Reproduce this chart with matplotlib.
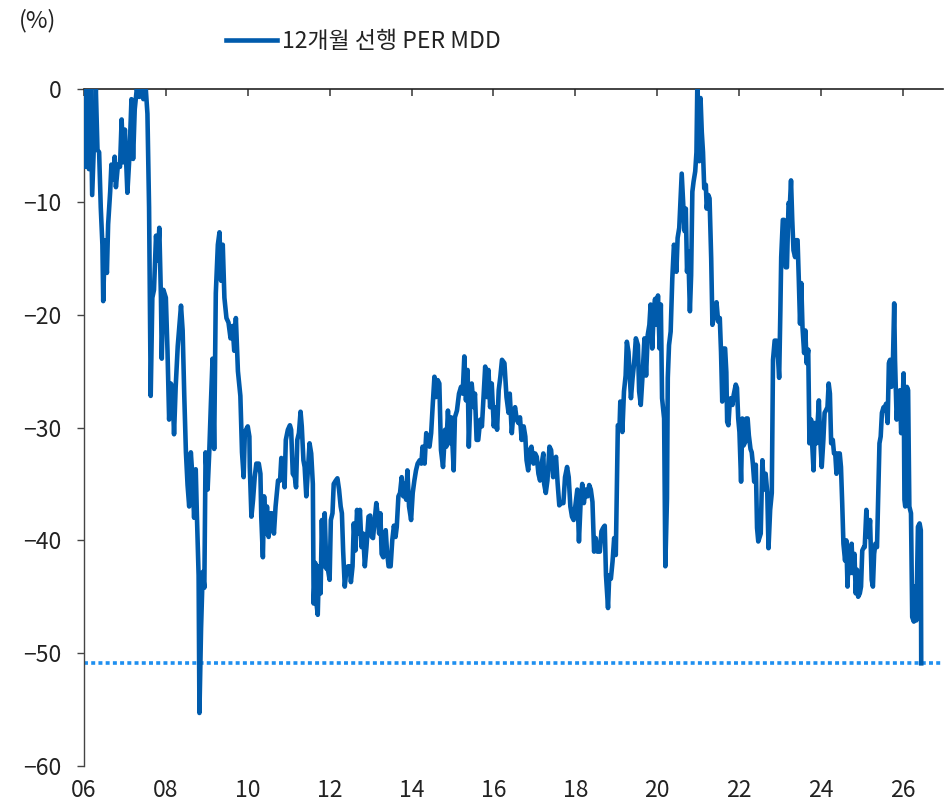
import matplotlib
matplotlib.use("Agg")
import matplotlib.pyplot as plt

plt.rcParams['font.family'] = ['Noto Sans CJK KR', 'DejaVu Sans']

# 12m forward PER drawdown (%), decimal year on x
years = [
    2006.02, 2006.03, 2006.08, 2006.12, 2006.16, 2006.20, 2006.24, 2006.29, 2006.33, 2006.37,
    2006.41, 2006.45, 2006.47, 2006.51, 2006.56, 2006.59, 2006.64, 2006.67, 2006.72, 2006.75,
    2006.78, 2006.83, 2006.88, 2006.92, 2006.96, 2007.00, 2007.06, 2007.11, 2007.16, 2007.20,
    2007.24, 2007.29, 2007.35, 2007.39, 2007.45, 2007.51, 2007.55, 2007.59, 2007.63, 2007.67,
    2007.71, 2007.76, 2007.80, 2007.84, 2007.88, 2007.90, 2007.94, 2008.00, 2008.04, 2008.08,
    2008.12, 2008.16, 2008.20, 2008.24, 2008.29, 2008.33, 2008.37, 2008.41, 2008.45, 2008.49,
    2008.53, 2008.57, 2008.61, 2008.65, 2008.69, 2008.73, 2008.76, 2008.80, 2008.82, 2008.86,
    2008.90, 2008.94, 2008.97, 2009.02, 2009.06, 2009.10, 2009.14, 2009.18, 2009.22, 2009.27,
    2009.31, 2009.35, 2009.39, 2009.43, 2009.48, 2009.53, 2009.58, 2009.63, 2009.67, 2009.71,
    2009.76, 2009.82, 2009.86, 2009.90, 2009.93, 2010.00, 2010.04,
    2010.05, 2010.09, 2010.13, 2010.17, 2010.21, 2010.27, 2010.31, 2010.33, 2010.37, 2010.40,
    2010.44, 2010.47, 2010.51, 2010.55, 2010.59, 2010.64, 2010.68, 2010.74, 2010.79, 2010.82,
    2010.86, 2010.90, 2010.93, 2010.98, 2011.03, 2011.06, 2011.10, 2011.15, 2011.18, 2011.21,
    2011.25, 2011.29, 2011.32, 2011.36, 2011.39, 2011.43, 2011.47, 2011.51, 2011.55, 2011.59,
    2011.61, 2011.65, 2011.67, 2011.71, 2011.74, 2011.78, 2011.81, 2011.84, 2011.88, 2011.92,
    2011.96, 2012.00, 2012.03, 2012.07, 2012.10, 2012.15, 2012.19, 2012.23, 2012.27, 2012.30,
    2012.33, 2012.37, 2012.41, 2012.45, 2012.49, 2012.52, 2012.56, 2012.59, 2012.63, 2012.67,
    2012.71, 2012.74, 2012.78, 2012.82, 2012.86, 2012.90, 2012.95, 2012.99, 2013.03, 2013.06,
    2013.10, 2013.14, 2013.18, 2013.21, 2013.24, 2013.27, 2013.31, 2013.34, 2013.37, 2013.40,
    2013.44, 2013.49, 2013.53, 2013.57, 2013.61, 2013.64, 2013.68, 2013.72, 2013.76, 2013.80,
    2013.83, 2013.87, 2013.90, 2013.94, 2013.99, 2014.03, 2014.07, 2014.11, 2014.15,
    2014.20, 2014.24, 2014.27, 2014.32, 2014.36, 2014.40, 2014.44, 2014.48, 2014.52, 2014.56,
    2014.60, 2014.64, 2014.68, 2014.72, 2014.77, 2014.82, 2014.85, 2014.89, 2014.93, 2014.97,
    2015.03, 2015.06, 2015.11, 2015.16, 2015.21, 2015.25, 2015.29, 2015.33, 2015.37, 2015.40,
    2015.44, 2015.47, 2015.52, 2015.55, 2015.59, 2015.63, 2015.68, 2015.72, 2015.76, 2015.80,
    2015.84, 2015.88, 2015.92, 2015.96, 2016.01, 2016.05, 2016.09, 2016.13, 2016.17, 2016.21,
    2016.27, 2016.32, 2016.37, 2016.40, 2016.45, 2016.49, 2016.53, 2016.57, 2016.61, 2016.65,
    2016.69, 2016.74, 2016.78, 2016.81, 2016.85, 2016.89, 2016.93, 2016.98, 2017.02, 2017.06,
    2017.10, 2017.14, 2017.18, 2017.22, 2017.24, 2017.28, 2017.32, 2017.37, 2017.41, 2017.46,
    2017.49, 2017.53, 2017.57, 2017.61, 2017.65, 2017.71, 2017.75, 2017.80, 2017.84, 2017.88,
    2017.92, 2017.96, 2018.01, 2018.05, 2018.09, 2018.13, 2018.17, 2018.21, 2018.25, 2018.30,
    2018.34, 2018.38, 2018.42, 2018.46, 2018.50, 2018.54, 2018.60, 2018.64, 2018.68, 2018.72,
    2018.75, 2018.80, 2018.83, 2018.87, 2018.91, 2018.95, 2018.99, 2019.04, 2019.08, 2019.10,
    2019.15, 2019.19, 2019.23, 2019.26, 2019.30, 2019.36, 2019.40, 2019.44, 2019.48, 2019.53,
    2019.56, 2019.60, 2019.64, 2019.69, 2019.73, 2019.77, 2019.81, 2019.84, 2019.88, 2019.92,
    2019.95, 2019.99, 2020.02, 2020.06, 2020.09, 2020.12, 2020.17, 2020.20, 2020.24, 2020.26,
    2020.29, 2020.33, 2020.37, 2020.41, 2020.44, 2020.47, 2020.50, 2020.54, 2020.57, 2020.60,
    2020.63, 2020.67, 2020.70, 2020.73, 2020.76, 2020.80, 2020.83, 2020.86, 2020.89, 2020.93,
    2020.96, 2020.98, 2021.01, 2021.03, 2021.06, 2021.09, 2021.12, 2021.15, 2021.19, 2021.21,
    2021.25, 2021.28, 2021.32, 2021.35, 2021.38, 2021.41, 2021.45, 2021.49, 2021.53, 2021.56,
    2021.59, 2021.63, 2021.66, 2021.69, 2021.71, 2021.74, 2021.77, 2021.80, 2021.84, 2021.87,
    2021.92, 2021.95, 2021.98, 2022.01, 2022.05, 2022.08, 2022.11, 2022.15, 2022.18, 2022.21,
    2022.24, 2022.28, 2022.31, 2022.34, 2022.37, 2022.41, 2022.44, 2022.47,
    2022.53, 2022.57, 2022.61, 2022.65, 2022.69, 2022.72, 2022.76, 2022.80, 2022.83, 2022.87,
    2022.91, 2022.95, 2022.98, 2023.01, 2023.03, 2023.07, 2023.10, 2023.14, 2023.17, 2023.21,
    2023.24, 2023.27, 2023.30, 2023.33, 2023.37, 2023.40, 2023.43, 2023.46, 2023.49, 2023.52,
    2023.55, 2023.59, 2023.62, 2023.65, 2023.69, 2023.72, 2023.76, 2023.79, 2023.82, 2023.85,
    2023.89, 2023.92, 2023.95, 2023.98, 2024.02, 2024.06, 2024.09, 2024.12, 2024.16, 2024.19,
    2024.22, 2024.25, 2024.29, 2024.32, 2024.35, 2024.38, 2024.41, 2024.46, 2024.49, 2024.52,
    2024.55, 2024.59, 2024.62, 2024.65, 2024.68, 2024.72, 2024.75, 2024.78, 2024.82, 2024.85,
    2024.88, 2024.91, 2024.95, 2024.98, 2025.01, 2025.05, 2025.07, 2025.11, 2025.14, 2025.17,
    2025.20, 2025.24, 2025.27, 2025.30, 2025.33, 2025.37, 2025.40, 2025.43, 2025.46, 2025.49,
    2025.53, 2025.56, 2025.59, 2025.63, 2025.66, 2025.69, 2025.72, 2025.76, 2025.79, 2025.81,
    2025.85, 2025.89, 2025.93, 2025.96, 2025.99, 2026.02, 2026.04, 2026.06, 2026.10, 2026.13,
    2026.16, 2026.20, 2026.23, 2026.27, 2026.30, 2026.33, 2026.37, 2026.41, 2026.44, 2026.45,
]
mdd = [
    0.0, -6.9, 0.0, -7.1, 0.0, -9.4, -5.1, 0.0, -5.4, -5.6,
    -10.5, -13.8, -18.8, -13.4, -16.3, -12.0, -9.1, -6.7, -8.0, -6.0,
    -8.7, -6.7, -6.9, -2.7, -6.5, -3.6, -9.2, -6.0, -0.9, -6.2,
    -1.8, 0.0, -0.7, 0.0, -0.9, 0.0, -2.2, -10.5, -27.2, -18.5,
    -17.8, -13.0, -15.2, -12.3, -18.5, -23.9, -17.8, -18.5, -23.2, -29.3,
    -26.1, -26.4, -30.6, -26.4, -22.8, -21.0, -19.2, -21.4, -27.2, -32.2,
    -35.1, -37.0, -32.2, -34.4, -38.0, -33.7, -38.0, -43.1, -55.3, -47.8,
    -42.8, -44.2, -32.2, -35.5, -32.2, -27.9, -23.9, -31.9, -18.1, -13.8,
    -12.7, -17.0, -13.8, -18.5, -20.3, -20.7, -22.1, -21.0, -23.2, -20.3,
    -25.0, -27.2, -32.2, -34.4, -30.4, -29.9, -30.8,
    -33.5, -37.9, -36.4, -34.4, -33.2, -33.2, -34.1, -37.9, -41.5, -36.1,
    -39.4, -37.0, -39.7, -37.6, -37.6, -39.4, -37.0, -34.7, -34.7, -32.7,
    -32.9, -35.3, -31.1, -30.2, -29.8, -30.2, -34.1, -34.4, -35.3, -31.1,
    -30.5, -28.6, -29.9, -32.9, -33.5, -36.1, -33.8, -31.4, -32.3, -35.0,
    -45.6, -42.0, -45.3, -46.6, -42.3, -44.7, -38.2, -42.3, -37.6, -42.5,
    -42.6, -43.5, -38.2, -37.6, -35.0, -34.7, -34.5, -35.5, -37.0, -37.6,
    -40.9, -44.1, -42.6, -42.3, -42.3, -43.7, -42.3, -38.5, -40.9, -37.3,
    -39.4, -37.3, -40.6, -39.4, -42.3, -40.6, -37.9, -37.8, -39.7, -39.8,
    -38.2, -36.7, -37.9, -39.4, -37.6, -41.2, -41.5, -40.6, -39.1, -40.9,
    -42.3, -42.3, -40.0, -38.7, -39.7, -38.8, -36.1, -35.8, -34.4, -36.1,
    -35.0, -36.4, -33.8, -37.0, -38.2, -35.8, -34.7, -33.8, -33.2,
    -32.9, -33.2, -31.7, -33.2, -30.5, -31.4, -31.7, -30.5, -27.9, -25.5,
    -27.3, -25.8, -26.1, -32.0, -33.5, -30.2, -31.7, -28.5, -31.4, -29.1,
    -33.8, -29.1, -28.5, -27.0, -26.4, -27.0, -23.7, -27.6, -24.9, -31.7,
    -27.3, -26.1, -28.2, -27.0, -31.1, -31.1, -29.3, -29.9, -27.3, -24.6,
    -27.3, -24.9, -28.2, -26.1, -29.9, -28.2, -30.2, -26.7, -25.5, -24.0,
    -24.3, -27.3, -28.7, -27.0, -30.5, -28.7, -28.2, -29.3, -29.6, -29.1,
    -31.1, -29.9, -30.8, -32.9, -33.8, -32.0, -31.7, -33.2, -32.3, -32.6,
    -34.1, -34.7, -33.2, -32.3, -35.0, -35.8, -34.7, -31.7, -32.0, -34.4,
    -33.2, -32.6, -35.0, -36.9, -36.7, -36.7, -34.4, -33.5, -34.4, -37.0,
    -37.9, -38.2, -36.7, -35.5, -40.1, -36.7, -35.0, -36.7, -35.5, -36.1,
    -35.1, -35.5, -36.6, -41.0, -39.8, -41.0, -41.0, -39.2, -38.9, -38.7,
    -43.1, -46.0, -43.1, -43.4, -41.9, -39.8, -41.3, -29.8, -30.1, -27.7,
    -30.4, -26.8, -25.4, -22.4, -23.3, -27.4, -25.6, -24.2, -22.1, -22.7,
    -26.8, -28.0, -25.6, -22.1, -25.4, -21.8, -20.9, -19.1, -23.0, -19.4,
    -18.6, -20.9, -18.3, -23.0, -19.1, -27.4, -29.2, -42.3, -36.3, -25.6,
    -22.7, -21.5, -16.8, -13.8, -14.4, -16.2, -13.2, -12.3, -10.0, -7.5,
    -9.7, -12.6, -10.6, -16.2, -14.4, -19.7, -16.5, -9.1, -8.2, -7.3,
    -5.6, 0.0, -4.1, -6.4, -0.8, -3.8, -5.6, -8.8, -8.5, -10.6,
    -9.4, -9.7, -15.0, -20.9, -20.3, -20.0, -18.9, -20.6, -20.3, -23.3,
    -27.7, -23.0, -23.0, -25.1, -29.5, -29.8, -28.0, -27.4, -28.0, -27.1,
    -26.2, -26.5, -29.2, -30.4, -34.8, -29.2, -31.6, -31.3, -29.2, -29.2,
    -30.7, -31.9, -32.2, -33.3, -34.8, -33.3, -38.9, -40.1,
    -39.4, -32.9, -35.5, -34.1, -35.8, -40.7, -37.3, -35.8, -24.0, -22.3,
    -22.3, -23.7, -25.6, -19.6, -14.9, -11.6, -11.6, -15.8, -15.8, -10.1,
    -10.4, -8.1, -11.6, -14.3, -14.9, -13.4, -13.4, -16.9, -20.8, -17.2,
    -21.1, -23.4, -21.4, -24.3, -23.1, -31.4, -29.3, -31.7, -33.8, -29.6,
    -31.4, -29.6, -27.6, -30.8, -33.5, -31.1, -28.7, -28.5, -28.2, -26.1,
    -27.0, -31.4, -31.1, -32.3, -32.3, -34.1, -32.3, -32.3, -33.5, -36.7,
    -40.3, -41.8, -40.0, -44.1, -40.6, -42.9, -40.3, -42.9, -41.2, -44.7,
    -42.6, -45.0, -44.7, -44.1, -40.9, -40.6, -40.6, -37.3, -39.4, -39.7,
    -38.2, -43.5, -44.1, -41.2, -40.3, -40.6, -35.8, -31.4, -30.8, -28.7,
    -28.2, -28.5, -27.9, -29.6, -24.3, -24.0, -26.4, -24.0, -19.0, -24.0,
    -29.3, -27.0, -26.7, -30.5, -28.2, -25.2, -36.4, -37.0, -26.4, -26.7,
    -37.0, -37.6, -46.8, -47.2, -44.1, -47.1, -38.8, -38.5, -39.1, -50.9,
]

tick_years = list(range(2006, 2027, 2))
tick_labels = ['06', '08', '10', '12', '14', '16', '18', '20', '22', '24', '26']
y_ticks = [0, -10, -20, -30, -40, -50, -60]
current_level = mdd[-1]

fig = plt.figure(figsize=(9.51, 8.06), dpi=100)
ax = fig.add_axes([0.0883, 0.0496, 0.9032, 0.8400])

ax.plot(years, mdd, color='#005BAC', lw=3.3, solid_joinstyle='round',
        label='12개월 선행 PER MDD', zorder=3)
ax.axhline(current_level, color='#1E8FF0', lw=2.6, ls=(0, (1.1, 0.9)), zorder=2)

ax.set_xlim(2006, 2026.98)
ax.set_ylim(-60, 0)
ax.set_yticks(y_ticks)
ax.set_xticks(tick_years)
ax.set_xticklabels(tick_labels)

# x axis line sits on zero (top), labels underneath the plot
for side in ['right', 'bottom']:
    ax.spines[side].set_visible(False)
ax.spines['top'].set_color('#222222')
ax.spines['top'].set_linewidth(1.2)
ax.spines['left'].set_color('#444444')
ax.spines['left'].set_linewidth(1.0)
ax.tick_params(axis='x', top=True, bottom=False, labeltop=False, labelbottom=True,
               direction='in', length=5, width=1.2, color='#444444',
               labelsize=16.5, pad=9, labelcolor='#222222')
ax.tick_params(axis='y', direction='out', length=5, width=1.0, color='#444444',
               labelsize=16.5, pad=11, labelcolor='#222222')

fig.text(0.020, 0.974, '(%)', fontsize=17, va='center', ha='left', color='#222222')
leg = fig.legend(loc='center left', bbox_to_anchor=(0.238, 0.948), frameon=False,
                 fontsize=16.5, handlelength=2.2, handletextpad=0.25, borderpad=0,
                 borderaxespad=0)
for t in leg.get_texts():
    t.set_color('#222222')

fig.savefig('out.png', dpi=100)
